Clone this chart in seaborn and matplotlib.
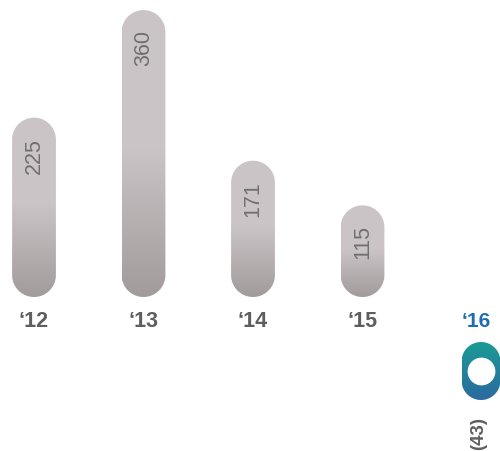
import numpy as np
import pandas as pd
import matplotlib
matplotlib.use("Agg")
import matplotlib.pyplot as plt
from matplotlib.patches import PathPatch
from matplotlib.path import Path
from matplotlib.colors import to_rgba
import seaborn as sns

# Data
years = ["\u201812", "\u201813", "\u201814", "\u201815"]
values = [225, 360, 171, 115]
last_year = ["\u201816"]
last_value = [-43]

sns.set_theme(style="white")
plt.rcParams["font.family"] = ["Liberation Sans", "DejaVu Sans"]

GRAY_TOP = "#cbc4c7"
GRAY_BOTTOM = "#a29b9b"
TEAL_TOP = "#1a9c94"
TEAL_BOTTOM = "#2b6aa0"
LABEL_GRAY = "#5e5e5e"
VALUE_GRAY = "#707070"
BLUE = "#1d6db4"

W, H, DPI = 500, 452, 100
fig = plt.figure(figsize=(W / DPI, H / DPI), dpi=DPI)
fig.patch.set_facecolor("white")

# Main axes: four positive years
ax = fig.add_axes([0, 0, 1, 1])
df = pd.DataFrame({"year": years, "value": values})
sns.barplot(data=df, x="year", y="value", ax=ax, width=0.40, color=GRAY_TOP)

# Secondary axes: the negative year, with its own baseline and scale
ax2 = fig.add_axes([0, 0, 1, 1])
df2 = pd.DataFrame({"year": last_year, "value": last_value})
sns.barplot(data=df2, x="year", y="value", ax=ax2, width=0.355, color=TEAL_TOP)

# Pixel layout of the two coordinate systems
px_x, base_main, ppu_main = 109.5, 298, 0.797
main_xlim = (-34 / px_x, (W - 34) / px_x)
main_ylim = ((base_main - H) / ppu_main, base_main / ppu_main)
base2, ppu2, cx2 = 343, 1.349, 481
sec_xlim = (-cx2 / px_x, (W - cx2) / px_x)
sec_ylim = ((base2 - H) / ppu2, base2 / ppu2)


def set_limits():
    ax.set_xlim(*main_xlim)
    ax.set_ylim(*main_ylim)
    ax2.set_xlim(*sec_xlim)
    ax2.set_ylim(*sec_ylim)


def gradient(top, bottom, hold=0.0, n=256):
    t = np.linspace(0, 1, n)
    t = np.clip((t - hold) / (1 - hold), 0, 1)
    c0, c1 = np.array(to_rgba(top)), np.array(to_rgba(bottom))
    return (c0[None, :] * (1 - t[:, None]) + c1[None, :] * t[:, None])[:, None, :]


def stadium(x0, w, yb, yt, k):
    """Pill outline in data units; k converts an x radius into a y radius."""
    r = w / 2
    ry = r * k
    cx = x0 + r
    a_top = np.linspace(0, np.pi, 60)
    a_bot = np.linspace(np.pi, 2 * np.pi, 60)
    top = np.column_stack([cx + r * np.cos(a_top), yt - ry + ry * np.sin(a_top)])
    bot = np.column_stack([cx + r * np.cos(a_bot), yb + ry + ry * np.sin(a_bot)])
    verts = np.vstack([top, bot, top[:1]])
    codes = [Path.MOVETO] + [Path.LINETO] * (len(verts) - 2) + [Path.CLOSEPOLY]
    return Path(verts, codes)


def round_bars(axis, top, bottom, hold):
    set_limits()
    # ratio that keeps the caps circular on screen
    p0 = axis.transData.transform((0, 0))
    p1 = axis.transData.transform((1, 1))
    k = abs(p1[0] - p0[0]) / abs(p1[1] - p0[1])
    for bar in list(axis.patches):
        x0, w = bar.get_x(), bar.get_width()
        y0, h = bar.get_y(), bar.get_height()
        yb, yt = min(y0, y0 + h), max(y0, y0 + h)
        bar.set_visible(False)
        shape = PathPatch(stadium(x0, w, yb, yt, k), facecolor="none",
                          edgecolor="none", transform=axis.transData)
        axis.add_patch(shape)
        img = axis.imshow(gradient(top, bottom, hold), extent=(x0, x0 + w, yb, yt),
                          origin="upper", aspect="auto", interpolation="bilinear",
                          zorder=2)
        img.set_clip_path(shape)


round_bars(ax, GRAY_TOP, GRAY_BOTTOM, 0.48)
round_bars(ax2, TEAL_TOP, TEAL_BOTTOM, 0.0)

# White centre on the negative bar
ax2.scatter([0], [last_value[0] / 2], s=400, color="white", zorder=4, linewidths=0)

# Value labels inside the bars
for i, v in enumerate(values):
    ax.text(i, v - 24, f"{v}", rotation=90, ha="center", va="top",
            fontsize=15.5, color=VALUE_GRAY, zorder=5)

# Year labels
for i, y in enumerate(years):
    ax.text(i, -30, y, ha="center", va="center", fontsize=15.5,
            fontweight="bold", color=LABEL_GRAY)
ax2.text(-0.04, (base2 - 322) / ppu2, last_year[0], ha="center", va="center",
         fontsize=15, fontweight="bold", color=BLUE)
ax2.text(-0.02, last_value[0] - 12, f"({abs(last_value[0])})", rotation=90,
         ha="center", va="top", fontsize=13.5, fontweight="bold", color=LABEL_GRAY)

for a in (ax, ax2):
    a.set_axis_off()
ax2.patch.set_alpha(0)
set_limits()

fig.savefig("out.png", dpi=DPI, facecolor="white")
